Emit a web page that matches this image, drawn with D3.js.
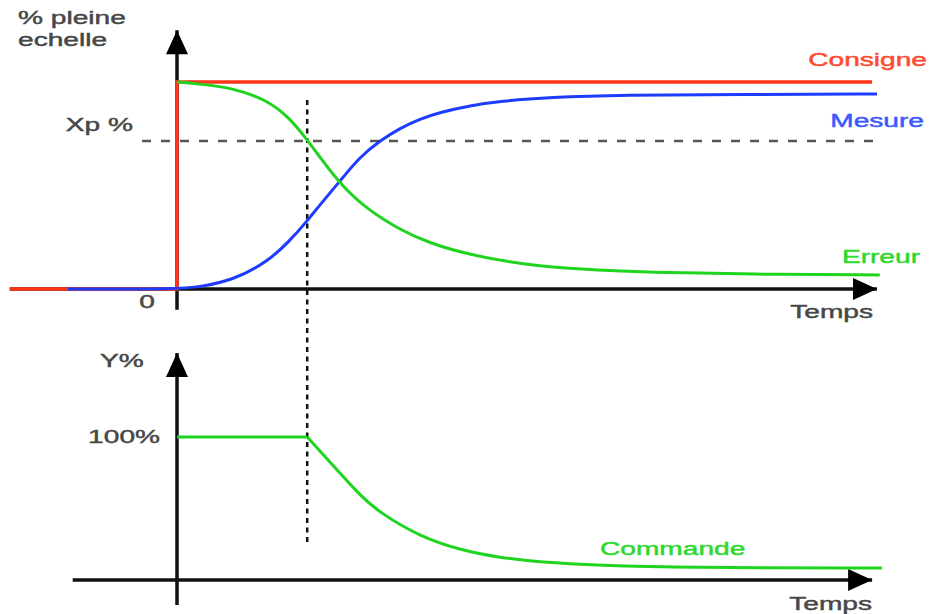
<!DOCTYPE html>
<meta charset="utf-8">
<script src="https://d3js.org/d3.v7.min.js"></script>
<style>
  body { margin: 0; background: #fff; }
  text { font-family: "Liberation Sans", Arial, sans-serif; font-size: 19px; stroke-width: 0.45px; }
</style>
<div id="my_dataviz"></div>
<script>

  // ---- data (time units / percent of full scale) ----
  const consigneT = [-23.9, 0, 0, 99.3];
  const consigneV = [0, 0, 100, 100];

  const mesureT = [-15.6, 0, 3.3, 8, 12.9, 16.1, 18.6, 20.4, 23.3, 26.1, 29, 31.9, 34.7, 37.6, 41.9, 46.1, 53.3, 63.3, 81.9, 100];
  const mesureV = [0, 0, 1, 4.3, 13, 23.2, 32.9, 40.6, 52.2, 63.8, 71.6, 77.8, 82.1, 85.4, 88.6, 90.7, 92.6, 93.7, 94, 94.2];

  const erreurT = [0, 3.3, 8, 12.9, 16.1, 18.6, 20.4, 23.3, 27.1, 31.9, 36.1, 41.9, 49, 57.6, 67.6, 81.9, 100.4];
  const erreurV = [100, 99, 97.1, 91.3, 82.6, 72, 63.8, 50.7, 38.6, 28.5, 22.1, 16.4, 12.1, 9.4, 8, 7.1, 6.8];

  const commandeT = [0, 18.6, 20.4, 23.3, 26.1, 29, 34.7, 40.4, 46.1, 51.9, 60.4, 71.9, 100.7];
  const commandeV = [100, 100, 90.2, 74.8, 59.4, 46.9, 30.4, 21, 15.6, 12.4, 10.3, 8.7, 8.4];
  const commandeKink = 1; // index where the command starts to fall

  const xp = 71.5;      // Xp % level
  const tCursor = 18.6; // time of the dotted vertical line

  // axis extents (data units)
  const topX = [-23.9, 100], topY = [-10, 125];
  const botX = [-14.9, 99.3], botY = [-17.5, 158.7];

  const width = 934, height = 614;

  const svg = d3.select("#my_dataviz")
    .append("svg")
    .attr("width", width)
    .attr("height", height);

  // scales
  const x = d3.scaleLinear().domain([0, 100]).range([177, 877]);
  const yTop = d3.scaleLinear().domain([0, 100]).range([289, 82]);
  const yBot = d3.scaleLinear().domain([0, 100]).range([580, 437]);

  const zip = (ts, vs) => ts.map((t, i) => ({t: t, v: vs[i]}));

  // ---- guides ----
  svg.append("line")
    .attr("x1", x(-5)).attr("x2", x(99.7))
    .attr("y1", yTop(xp)).attr("y2", yTop(xp))
    .attr("stroke", "#555").attr("stroke-width", 2.5)
    .attr("stroke-dasharray", "9,10");

  svg.append("line")
    .attr("x1", x(tCursor)).attr("x2", x(tCursor))
    .attr("y1", yTop(91.3)).attr("y2", yBot(25.9))
    .attr("stroke", "#111").attr("stroke-width", 2.5)
    .attr("stroke-dasharray", "5,4.5");

  // ---- axes with arrow heads ----
  function arrowAxis(x1, y1, x2, y2) {
    svg.append("line")
      .attr("x1", x1).attr("y1", y1).attr("x2", x2).attr("y2", y2)
      .attr("stroke", "#111").attr("stroke-width", 3.5);
    const ang = Math.atan2(y2 - y1, x2 - x1);
    const len = 24, half = 11;
    const bx = x2 - len * Math.cos(ang), by = y2 - len * Math.sin(ang);
    const px = -Math.sin(ang) * half, py = Math.cos(ang) * half;
    svg.append("path")
      .attr("d", `M${x2},${y2}L${bx + px},${by + py}L${bx - px},${by - py}Z`)
      .attr("fill", "#000");
  }
  arrowAxis(x(topX[0]), yTop(0), x(topX[1]), yTop(0));
  arrowAxis(x(0), yTop(topY[0]), x(0), yTop(topY[1]));
  arrowAxis(x(botX[0]), yBot(0), x(botX[1]), yBot(0));
  arrowAxis(x(0), yBot(botY[0]), x(0), yBot(botY[1]));

  // ---- curves ----
  const smoothTop = d3.line().x(d => x(d.t)).y(d => yTop(d.v)).curve(d3.curveBasis);
  const stepTop = d3.line().x(d => x(d.t)).y(d => yTop(d.v));
  const smoothBot = d3.line().x(d => x(d.t)).y(d => yBot(d.v)).curve(d3.curveBasis);
  const flatBot = d3.line().x(d => x(d.t)).y(d => yBot(d.v));

  const green = "#1fd41f";

  svg.append("path").datum(zip(consigneT, consigneV))
    .attr("d", stepTop).attr("fill", "none")
    .attr("stroke", "#ff3418").attr("stroke-width", 3.5);

  svg.append("path").datum(zip(mesureT, mesureV))
    .attr("d", smoothTop).attr("fill", "none")
    .attr("stroke", "#1d3cff").attr("stroke-width", 3);

  svg.append("path").datum(zip(erreurT, erreurV))
    .attr("d", smoothTop).attr("fill", "none")
    .attr("stroke", green).attr("stroke-width", 3);

  const cmd = zip(commandeT, commandeV);
  svg.append("path").datum(cmd.slice(0, commandeKink + 1))
    .attr("d", flatBot).attr("fill", "none")
    .attr("stroke", green).attr("stroke-width", 3);
  svg.append("path").datum(cmd.slice(commandeKink))
    .attr("d", smoothBot).attr("fill", "none")
    .attr("stroke", green).attr("stroke-width", 3);

  // ---- labels (the source picture is stretched horizontally) ----
  function label(txt, px, py, color, anchor) {
    svg.append("text")
      .attr("transform", `translate(${px},${py}) scale(1.48,1)`)
      .attr("text-anchor", anchor || "start")
      .attr("fill", color)
      .attr("stroke", color)
      .text(txt);
  }
  const grey = "#474747";
  label("% pleine", 18, 24, grey);
  label("echelle", 18, 46, grey);
  label("Xp %", 133, 131, grey, "end");
  label("0", 155, 308, grey, "end");
  label("Consigne", 927, 66, "#ff4a30", "end");
  label("Mesure", 924, 127, "#3a58ff", "end");
  label("Erreur", 920, 263, "#2cd92c", "end");
  label("Temps", 873, 318, grey, "end");
  label("Y%", 100, 367, grey);
  label("100%", 160, 443, grey, "end");
  label("Commande", 600, 555, "#2cd92c");
  label("Temps", 872, 610, grey, "end");

</script>
